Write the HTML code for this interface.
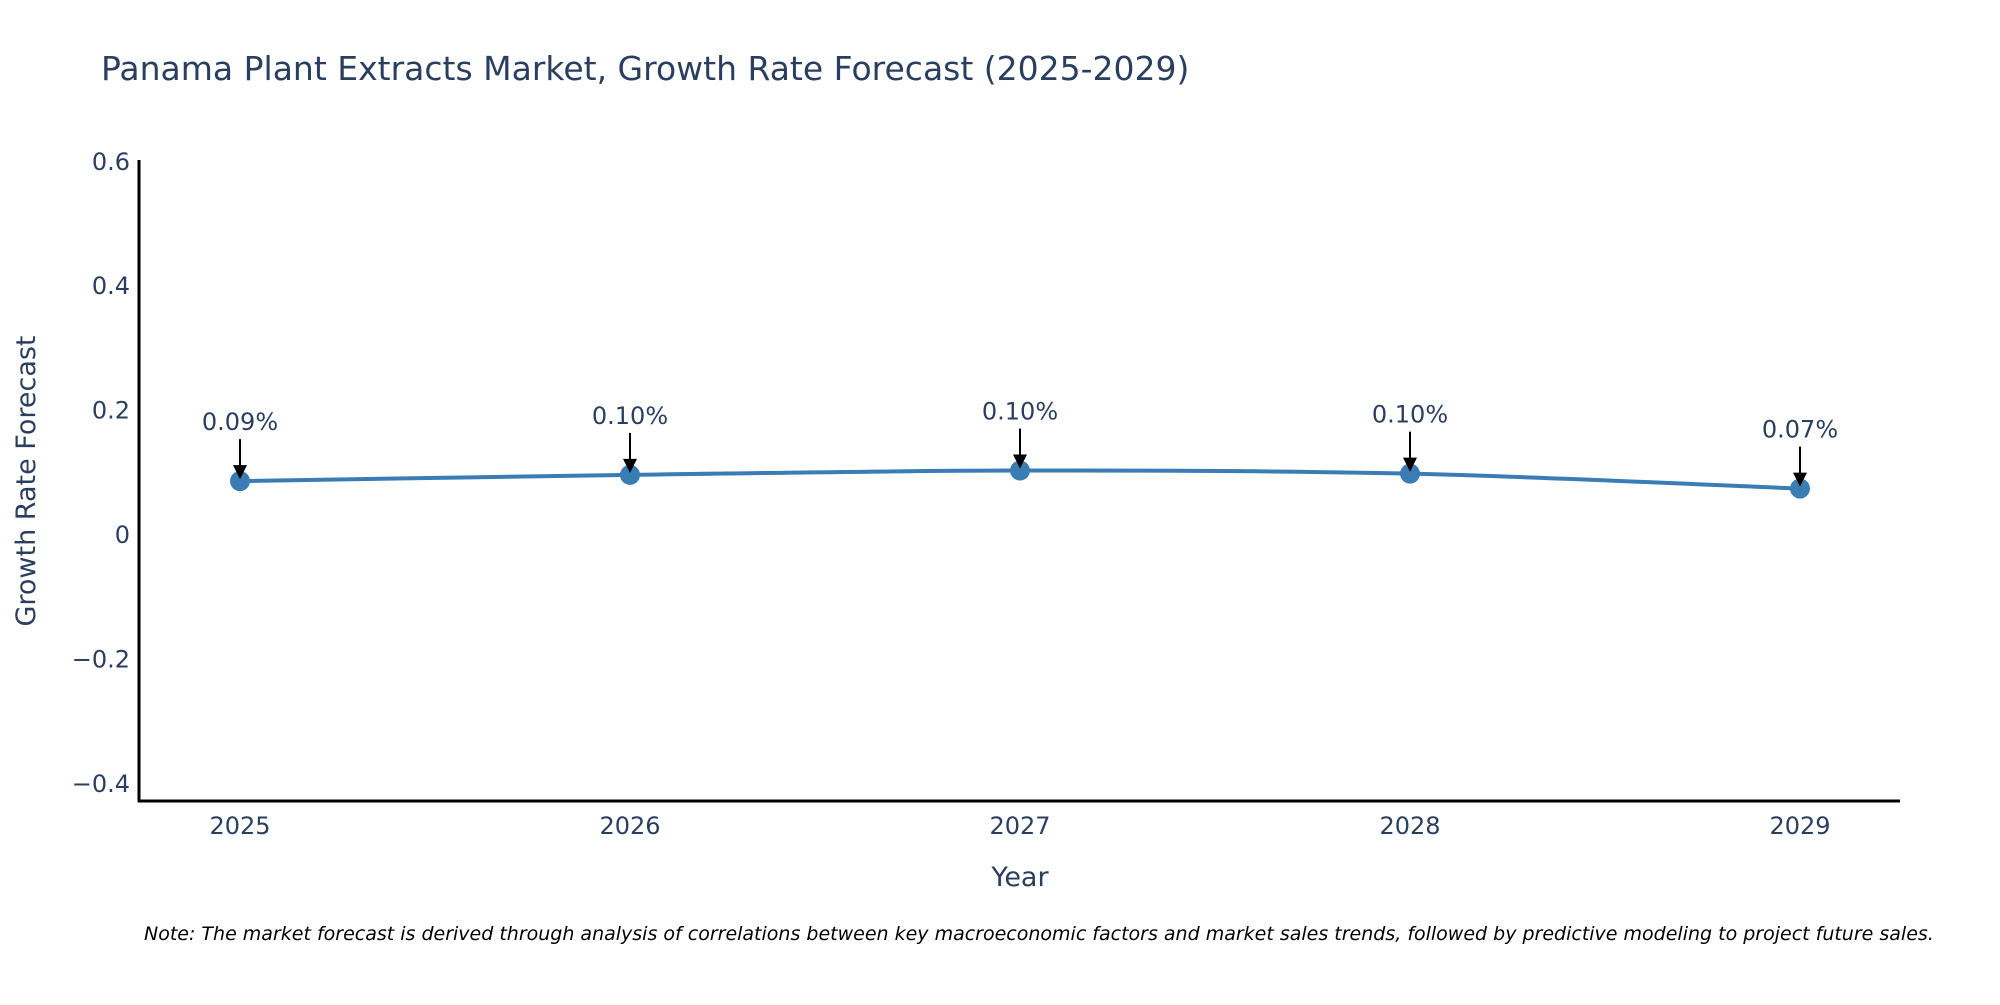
<!DOCTYPE html>
<html><head><meta charset="utf-8"><style>
body{margin:0;background:#fff;}
svg text{font-family:"DejaVu Sans","Liberation Sans",sans-serif;fill:#2a3f5f;}
</style></head><body>
<svg id="chart" width="2000" height="1000" viewBox="0 0 2000 1000" xmlns="http://www.w3.org/2000/svg">
<text x="101" y="80" font-size="33">Panama Plant Extracts Market, Growth Rate Forecast (2025-2029)</text>
<g id="yticks"></g>
<g id="xticks"></g>
<line x1="139" y1="160" x2="139" y2="802" stroke="#000" stroke-width="3"/>
<line x1="138" y1="801" x2="1900" y2="801" stroke="#000" stroke-width="3"/>
<text transform="translate(35,481) rotate(-90)" text-anchor="middle" font-size="27">Growth Rate Forecast</text>
<text x="1020" y="886" text-anchor="middle" font-size="27">Year</text>
<g id="series"></g>
<g id="annots"></g>
<text x="144" y="940" font-size="19" font-style="italic" style="fill:#000">Note: The market forecast is derived through analysis of correlations between key macroeconomic factors and market sales trends, followed by predictive modeling to project future sales.</text>
</svg>
<script>
const years = [2025, 2026, 2027, 2028, 2029];
const growth = [0.085, 0.095, 0.102, 0.097, 0.073];
const labels = ["0.09%", "0.10%", "0.10%", "0.10%", "0.07%"];
const yTickVals = [-0.4, -0.2, 0, 0.2, 0.4, 0.6];
const yTickText = ["\u22120.4", "\u22120.2", "0", "0.2", "0.4", "0.6"];

const NS = "http://www.w3.org/2000/svg";
function xs(v){ return 240 + (v - 2025) * 390; }
function ys(v){ return 534 - v * 622; }
function mk(tag, attrs, parent){ const e = document.createElementNS(NS, tag); for (const k in attrs) e.setAttribute(k, attrs[k]); parent.appendChild(e); return e; }

const yt = document.getElementById('yticks');
yTickVals.forEach((v, i) => {
  const t = mk('text', {x: 130, y: ys(v) + 9, 'text-anchor': 'end', 'font-size': 24}, yt);
  
  
  t.textContent = yTickText[i];
});
const xt = document.getElementById('xticks');
years.forEach(y => {
  const t = mk('text', {x: xs(y), y: 834, 'text-anchor': 'middle', 'font-size': 24}, xt);
  
  
  t.textContent = y;
});

const pts = years.map((y, i) => [xs(y), ys(growth[i])]);
let d = 'M' + pts[0][0] + ',' + pts[0][1];
for (let i = 0; i < pts.length - 1; i++) {
  const p0 = pts[Math.max(0, i - 1)], p1 = pts[i], p2 = pts[i + 1], p3 = pts[Math.min(pts.length - 1, i + 2)];
  const c1 = [p1[0] + (p2[0] - p0[0]) / 6, p1[1] + (p2[1] - p0[1]) / 6];
  const c2 = [p2[0] - (p3[0] - p1[0]) / 6, p2[1] - (p3[1] - p1[1]) / 6];
  d += ' C' + c1[0] + ',' + c1[1] + ' ' + c2[0] + ',' + c2[1] + ' ' + p2[0] + ',' + p2[1];
}
const s = document.getElementById('series');
const line = mk('path', {d: d, fill: 'none', stroke: '#3a7db4', 'stroke-width': 4}, s);


pts.forEach(p => {
  const c = mk('circle', {cx: p[0], cy: p[1], r: 10, fill: '#3a7db4'}, s);
  
  
});

const an = document.getElementById('annots');
pts.forEach((p, i) => {
  const x = p[0], y = p[1];
  const l = mk('line', {x1: x, y1: y - 42, x2: x, y2: y - 12, stroke: '#000', 'stroke-width': 2}, an);
  
  
  const h = mk('polygon', {points: (x - 7) + ',' + (y - 16) + ' ' + (x + 7) + ',' + (y - 16) + ' ' + x + ',' + (y - 2), fill: '#000'}, an);
  
  
  const t = mk('text', {x: x, y: y - 51, 'text-anchor': 'middle', 'font-size': 24}, an);
  
  
  t.textContent = labels[i];
});
</script>
</body></html>
